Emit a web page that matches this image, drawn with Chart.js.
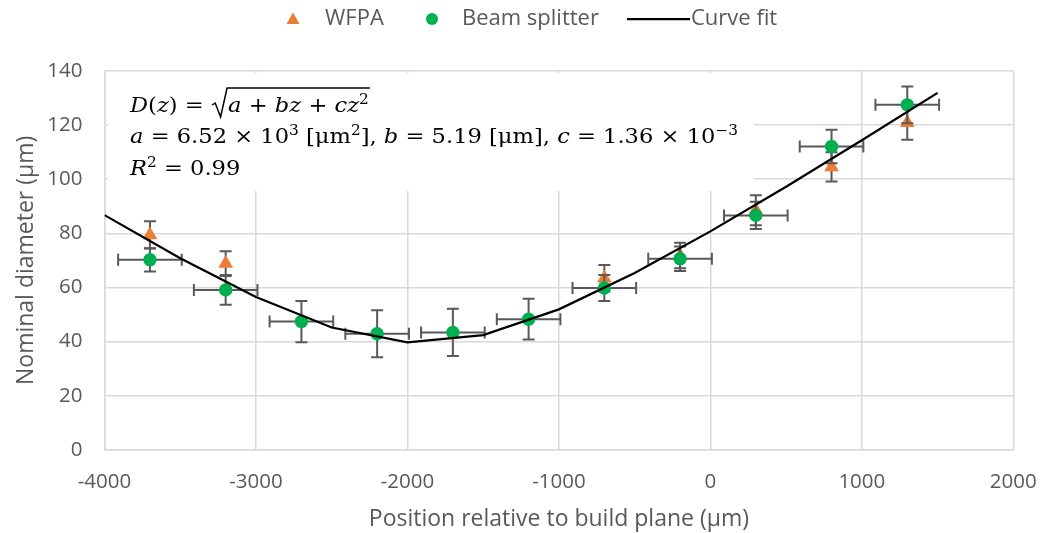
<!DOCTYPE html>
<html>
<head>
<meta charset="utf-8">
<script src="https://cdn.jsdelivr.net/npm/chart.js@4.4.1/dist/chart.umd.min.js"></script>
<style>
  html, body { margin: 0; padding: 0; background: #ffffff; }
  #wrap { width: 1042px; height: 533px; position: relative; }
</style>
</head>
<body>
<div id="wrap"><canvas id="chart"></canvas></div>
<script>
// Measured nominal diameter (µm) against position relative to the build plane (µm)
const wfpaPos   = [-3700, -3200, -700, -200, 300, 800, 1300];
const wfpaDiam  = [79.4, 68.8, 63.4, 71.8, 88.5, 104.5, 120.8];
const wfpaErr   = [5.0, 4.6, 4.9, 4.7, 5.5, 5.4, 6.3];

const splitPos  = [-3700, -3200, -2700, -2200, -1700, -1200, -700, -200, 300, 800, 1300];
const splitDiam = [70.2, 59.1, 47.4, 42.9, 43.4, 48.3, 59.8, 70.6, 86.6, 112.0, 127.4];
const splitErr  = [4.3, 5.5, 7.6, 8.7, 8.7, 7.5, 4.8, 4.5, 5.0, 6.2, 6.8];
const splitPosErr = [210, 210, 210, 210, 210, 210, 210, 210, 210, 210, 210];

// Fitted curve D(z) = sqrt(a + b z + c z^2), tabulated every 500 µm
const fitPos  = [-4000, -3500, -3000, -2500, -2000, -1500, -1000, -500, 0, 500, 1000, 1500];
const fitDiam = [86.7, 70.8, 56.5, 45.2, 39.7, 42.4, 51.9, 65.3, 80.7, 97.2, 114.3, 131.8];

const xTicks = [-4000, -3000, -2000, -1000, 0, 1000, 2000];
const yTicks = [0, 20, 40, 60, 80, 100, 120, 140];

const UI_FONT = '"Open Sans", "Liberation Sans", sans-serif';
const MATH_FONT = '"DejaVu Serif", "Liberation Serif", serif';
const TEXT_GREY = '#595959';
const GRID_GREY = '#d9d9d9';
const ORANGE = '#ED7D31';
const GREEN = '#00B050';

const toPoints = (xs, ys) => xs.map((x, i) => ({ x: x, y: ys[i] }));

// error bars per dataset index, drawn just beneath that dataset's markers
const errorSets = {
  0: null,
  1: { y: splitErr, x: splitPosErr },
  2: { y: wfpaErr, x: null }
};

const errorBars = {
  id: 'errorBars',
  beforeDatasetDraw(chart, args) {
    const spec = errorSets[args.index];
    if (!spec) return;
    const { ctx, scales: { x, y } } = chart;
    const pts = chart.data.datasets[args.index].data;
    const cap = 6;
    ctx.save();
    ctx.strokeStyle = TEXT_GREY;
    ctx.lineWidth = 2;
    ctx.lineCap = 'butt';
    pts.forEach((p, i) => {
      const px = x.getPixelForValue(p.x);
      const py = y.getPixelForValue(p.y);
      const yTop = y.getPixelForValue(p.y + spec.y[i]);
      const yBot = y.getPixelForValue(p.y - spec.y[i]);
      ctx.beginPath();
      ctx.moveTo(px, yTop); ctx.lineTo(px, yBot);
      ctx.moveTo(px - cap, yTop); ctx.lineTo(px + cap, yTop);
      ctx.moveTo(px - cap, yBot); ctx.lineTo(px + cap, yBot);
      if (spec.x) {
        const xl = x.getPixelForValue(p.x - spec.x[i]);
        const xr = x.getPixelForValue(p.x + spec.x[i]);
        ctx.moveTo(xl, py); ctx.lineTo(xr, py);
        ctx.moveTo(xl, py - cap); ctx.lineTo(xl, py + cap);
        ctx.moveTo(xr, py - cap); ctx.lineTo(xr, py + cap);
      }
      ctx.stroke();
    });
    ctx.restore();
  }
};

// draws a sequence of text runs (italic / superscript aware), returns end x
function drawRuns(ctx, x, y, runs, size, draw) {
  runs.forEach(r => {
    const fs = r.sup ? size * 0.68 : size;
    ctx.font = (r.it ? 'italic ' : '') + fs + 'px ' + MATH_FONT;
    const dy = r.sup ? -size * 0.40 : 0;
    if (draw !== false) ctx.fillText(r.t, x, y + dy);
    x += ctx.measureText(r.t).width;
  });
  return x;
}

const line1a = [
  { t: 'D', it: true }, { t: '(' }, { t: 'z', it: true }, { t: ')' }, { t: ' = ' }
];
const line1b = [
  { t: 'a', it: true }, { t: ' + ' }, { t: 'bz', it: true }, { t: ' + ' },
  { t: 'cz', it: true }, { t: '2', sup: true }
];
const line2 = [
  { t: 'a', it: true }, { t: ' = 6.52 × 10' }, { t: '3', sup: true },
  { t: ' [μm' }, { t: '2', sup: true }, { t: '], ' },
  { t: 'b', it: true }, { t: ' = 5.19 [μm], ' },
  { t: 'c', it: true }, { t: ' = 1.36 × 10' }, { t: '−3', sup: true }
];
const line3 = [
  { t: 'R', it: true }, { t: '2', sup: true }, { t: ' = 0.99' }
];

const equationBox = {
  id: 'equationBox',
  beforeDatasetsDraw(chart) {
    const ctx = chart.ctx;
    ctx.save();
    ctx.fillStyle = '#ffffff';
    ctx.fillRect(108, 73, 646, 118);
    ctx.fillStyle = '#000000';
    ctx.textBaseline = 'alphabetic';
    ctx.textAlign = 'left';
    const size = 21;
    const x0 = 130;
    // horizontal stretch so the coefficient line spans the box like the serif math face
    const natural = drawRuns(ctx, 0, 0, line2, size, false);
    const sx = 608 / natural;
    ctx.translate(x0, 0);
    ctx.scale(sx, 1);

    let x = drawRuns(ctx, 0, 112, line1a, size);
    const rx = x + 1;
    const inner = rx + 15;
    const xEnd = drawRuns(ctx, inner, 112, line1b, size);
    ctx.strokeStyle = '#000000';
    ctx.lineWidth = 1.4;
    ctx.beginPath();
    ctx.moveTo(rx, 105);
    ctx.lineTo(rx + 3, 103);
    ctx.lineTo(rx + 8, 117);
    ctx.lineTo(rx + 14, 88);
    ctx.lineTo(xEnd + 1, 88);
    ctx.stroke();

    drawRuns(ctx, 0, 143, line2, size);
    drawRuns(ctx, 0, 175, line3, size);
    ctx.restore();
  }
};

const legendRow = {
  id: 'legendRow',
  afterDraw(chart) {
    const ctx = chart.ctx;
    const cy = 19;
    ctx.save();
    ctx.font = '22px ' + UI_FONT;
    ctx.textBaseline = 'middle';
    ctx.textAlign = 'left';
    ctx.fillStyle = ORANGE;
    ctx.beginPath();
    ctx.moveTo(293, cy - 6.5); ctx.lineTo(299.5, cy + 5); ctx.lineTo(286.5, cy + 5);
    ctx.closePath(); ctx.fill();
    ctx.fillStyle = TEXT_GREY;
    ctx.fillText('WFPA', 325, cy);
    ctx.fillStyle = GREEN;
    ctx.beginPath(); ctx.arc(432, cy, 6, 0, Math.PI * 2); ctx.fill();
    ctx.fillStyle = TEXT_GREY;
    ctx.fillText('Beam splitter', 462, cy);
    ctx.strokeStyle = '#000000';
    ctx.lineWidth = 2.25;
    ctx.beginPath(); ctx.moveTo(627, cy); ctx.lineTo(690, cy); ctx.stroke();
    ctx.fillText('Curve fit', 691, cy);
    ctx.restore();
  }
};

new Chart(document.getElementById('chart'), {
  type: 'scatter',
  data: {
    datasets: [
      {
        label: 'Curve fit',
        type: 'line',
        data: toPoints(fitPos, fitDiam),
        borderColor: '#000000',
        borderWidth: 2.25,
        pointRadius: 0,
        tension: 0,
        fill: false,
        order: 0
      },
      {
        label: 'Beam splitter',
        data: toPoints(splitPos, splitDiam),
        pointStyle: 'circle',
        pointRadius: 6.7,
        backgroundColor: GREEN,
        borderColor: GREEN,
        borderWidth: 0,
        order: 1
      },
      {
        label: 'WFPA',
        data: toPoints(wfpaPos, wfpaDiam),
        pointStyle: 'triangle',
        pointRadius: 8.5,
        backgroundColor: ORANGE,
        borderColor: ORANGE,
        borderWidth: 0,
        order: 2
      }
    ]
  },
  options: {
    responsive: true,
    maintainAspectRatio: false,
    animation: false,
    layout: { padding: { top: 70.7, right: 28.7, left: 0, bottom: 0 } },
    plugins: {
      legend: { display: false },
      tooltip: { enabled: false }
    },
    scales: {
      x: {
        type: 'linear',
        min: -4000, max: 2000,
        afterBuildTicks: s => { s.ticks = xTicks.map(v => ({ value: v })); },
        afterFit: s => { s.height = 83; },
        grid: { color: GRID_GREY, lineWidth: 1.5, drawTicks: true, tickLength: 20, tickColor: 'rgba(0,0,0,0)' },
        border: { color: GRID_GREY, width: 1.5 },
        ticks: {
          color: TEXT_GREY, font: { family: UI_FONT, size: 20.5 }, padding: 0, maxRotation: 0,
          callback: v => String(v)
        },
        title: {
          display: true,
          text: 'Position relative to build plane (µm)',
          color: TEXT_GREY,
          font: { family: UI_FONT, size: 23 },
          padding: { top: 0, bottom: 0 }
        }
      },
      y: {
        type: 'linear',
        min: 0, max: 140,
        afterBuildTicks: s => { s.ticks = yTicks.map(v => ({ value: v })); },
        afterFit: s => { s.width = 104.5; },
        grid: { color: GRID_GREY, lineWidth: 1.5, drawTicks: false },
        border: { color: GRID_GREY, width: 1.5 },
        ticks: {
          color: TEXT_GREY, font: { family: UI_FONT, size: 20.5 }, padding: 22,
          callback: v => String(v)
        },
        title: {
          display: true,
          text: 'Nominal diameter (µm)',
          color: TEXT_GREY,
          font: { family: UI_FONT, size: 23 },
          padding: { top: 13, bottom: 0 }
        }
      }
    }
  },
  plugins: [errorBars, equationBox, legendRow]
});
</script>
</body>
</html>
